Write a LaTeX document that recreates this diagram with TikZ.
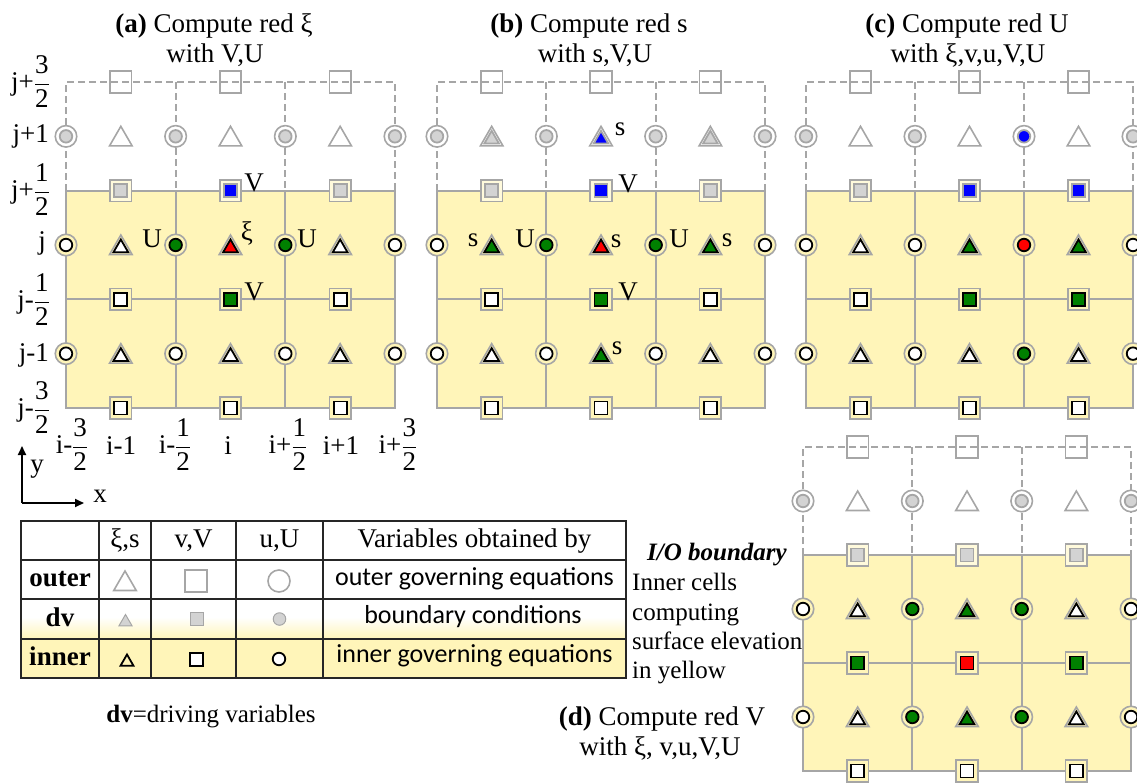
\documentclass[tikz,border=0pt]{standalone}
\usepackage{fontspec}
\setmainfont{Liberation Serif}
\newfontfamily\calibfont{Carlito}
\usetikzlibrary{shapes.geometric,arrows.meta}

\definecolor{yel}{HTML}{FFF5B9}
\definecolor{paleyel}{HTML}{FFFADC}
\definecolor{ring}{HTML}{A6A6A6}
\definecolor{dvfill}{HTML}{D3D3D3}
\definecolor{grn}{HTML}{008000}

\tikzset{
  base/.style={inner sep=0pt, outer sep=0pt},
  sqh/.style={base, rectangle, minimum size=21.5pt, draw=ring, line width=1.6pt},
  sqi/.style={base, rectangle, minimum size=13pt, line width=1.8pt},
  cih/.style={base, circle, minimum size=21.5pt, draw=ring, line width=1.6pt},
  cii/.style={base, circle, minimum size=12.5pt, line width=1.8pt},
  trh/.style={base, regular polygon, regular polygon sides=3, minimum size=26pt, draw=ring, line width=1.6pt},
  tri/.style={base, regular polygon, regular polygon sides=3, minimum size=17pt, line width=1.8pt},
  gline/.style={draw=ring, line width=1.9pt},
  dline/.style={draw=ring, line width=1.9pt, dash pattern=on 7pt off 4pt},
  tline/.style={draw=black!85, line width=1.6pt},
  t27/.style={font=\fontsize{27}{30}\selectfont, inner sep=0pt},
  t25/.style={font=\fontsize{25}{29}\selectfont, inner sep=0pt},
  tcal/.style={font=\calibfont\fontsize{26}{30}\selectfont, inner sep=0pt},
  axis/.style={line width=1.8pt, -{Triangle[length=9pt,width=8pt]}},
}

% stacked fraction in the text font
\newcommand\fr[2]{$\displaystyle\frac{\hbox{#1}}{\hbox{#2}}$}

% background of the ring around a marker, by row
\newcommand\setbg[1]{\ifnum#1<2 \def\hf{white}\else\ifnum#1=2 \def\hf{paleyel}\else\def\hf{yel}\fi\fi}

% markers: column, row, inner fill, inner stroke
\newcommand\msq[4]{\setbg{#2}%
  \node[sqh, fill=\hf] (\pn s#1#2) at (#1,#2) {};
  \node[sqi, fill=#3, draw=#4] (\pn s#1#2i) at (#1,#2) {};}
\newcommand\mci[4]{\setbg{#2}%
  \node[cih, fill=\hf] (\pn c#1#2) at (#1,#2) {};
  \node[cii, fill=#3, draw=#4] (\pn c#1#2i) at (#1,#2) {};}
\newcommand\mtr[4]{\setbg{#2}%
  \node[trh, fill=\hf, yshift=-3pt] (\pn t#1#2) at (#1,#2) {};
  \node[tri, fill=#3, draw=#4, yshift=-3pt] (\pn t#1#2i) at (#1,#2) {};}
% hollow outer markers
\newcommand\osq[1]{\node[sqh] (\pn o#1) at (#1,0) {};}
\newcommand\otr[1]{\node[trh, yshift=-3pt] (\pn u#1) at (#1,1) {};}

% staggered grid of one panel, in half-cell units
\newcommand\grid{%
  \fill[yel] (0,2) rectangle (6,6);
  \draw[dline] (0,2) -- (0,0) -- (6,0) -- (6,2);
  \draw[dline] (2,0) -- (2,2) (4,0) -- (4,2);
  \draw[gline] (0,2) rectangle (6,6);
  \draw[gline] (0,4) -- (6,4) (2,2) -- (2,6) (4,2) -- (4,6);
  \foreach \X in {1,3,5} {\osq{\X}}
  \foreach \X in {1,3,5} {\msq{\X}{6}{white}{black}}
}

\begin{document}
\begin{tikzpicture}[x=1pt, y=-1pt]
\useasboundingbox (0,0) rectangle (1137,782);

% ---------------- panel (a)
\def\pn{a}
\begin{scope}[shift={(66,82)}, x=54.83pt, y=-54.33pt]
  \grid
  \foreach \X in {1,3,5} {\otr{\X}}
  \foreach \X/\Y/\F/\D in {0/1/dvfill/ring, 2/1/dvfill/ring, 4/1/dvfill/ring, 6/1/dvfill/ring,
      0/3/white/black, 2/3/grn/black, 4/3/grn/black, 6/3/white/black,
      0/5/white/black, 2/5/white/black, 4/5/white/black, 6/5/white/black} {\mci{\X}{\Y}{\F}{\D}}
  \foreach \X/\Y/\F/\D in {1/2/dvfill/ring, 3/2/blue/ring, 5/2/dvfill/ring,
      1/4/white/black, 3/4/grn/black, 5/4/white/black} {\msq{\X}{\Y}{\F}{\D}}
  \foreach \X/\Y/\F/\D in {1/3/white/black, 3/3/red/black, 5/3/white/black,
      1/5/white/black, 3/5/white/black, 5/5/white/black} {\mtr{\X}{\Y}{\F}{\D}}
\end{scope}
\node[t27] (la1) at (254,183) {V};
\node[t27] (la2) at (152,239) {U};
\node[t27] (la3) at (247,233) {ξ};
\node[t27] (la4) at (307,239) {U};
\node[t27] (la5) at (254,292) {V};

% ---------------- panel (b)
\def\pn{b}
\begin{scope}[shift={(437,82)}, x=54.67pt, y=-54.33pt]
  \grid
  \foreach \X/\Y/\F/\D in {0/1/dvfill/ring, 2/1/dvfill/ring, 4/1/dvfill/ring, 6/1/dvfill/ring,
      0/3/white/black, 2/3/grn/black, 4/3/grn/black, 6/3/white/black,
      0/5/white/black, 2/5/white/black, 4/5/white/black, 6/5/white/black} {\mci{\X}{\Y}{\F}{\D}}
  \foreach \X/\Y/\F/\D in {1/2/dvfill/ring, 3/2/blue/ring, 5/2/dvfill/ring,
      1/4/white/black, 3/4/grn/black, 5/4/white/black} {\msq{\X}{\Y}{\F}{\D}}
  \foreach \X/\Y/\F/\D in {1/1/dvfill/ring, 3/1/blue/ring, 5/1/dvfill/ring,
      1/3/grn/black, 3/3/red/black, 5/3/grn/black,
      1/5/white/black, 3/5/grn/black, 5/5/white/black} {\mtr{\X}{\Y}{\F}{\D}}
\end{scope}
\node[t27] (lb1) at (620,129) {s};
\node[t27] (lb2) at (628,184) {V};
\node[t27] (lb3) at (473,240) {s};
\node[t27] (lb4) at (525,239) {U};
\node[t27] (lb5) at (616,241) {s};
\node[t27] (lb6) at (679,239) {U};
\node[t27] (lb7) at (727,240) {s};
\node[t27] (lb8) at (628,292) {V};
\node[t27] (lb9) at (617,348) {s};

% ---------------- panel (c)
\def\pn{c}
\begin{scope}[shift={(806,82)}, x=54.5pt, y=-54.33pt]
  \grid
  \foreach \X in {1,3,5} {\otr{\X}}
  \foreach \X/\Y/\F/\D in {0/1/dvfill/ring, 2/1/dvfill/ring, 4/1/blue/ring, 6/1/dvfill/ring,
      0/3/white/black, 2/3/white/black, 4/3/red/black, 6/3/white/black,
      0/5/white/black, 2/5/white/black, 4/5/grn/black, 6/5/white/black} {\mci{\X}{\Y}{\F}{\D}}
  \foreach \X/\Y/\F/\D in {1/2/dvfill/ring, 3/2/blue/ring, 5/2/blue/ring,
      1/4/white/black, 3/4/grn/black, 5/4/grn/black} {\msq{\X}{\Y}{\F}{\D}}
  \foreach \X/\Y/\F/\D in {1/3/white/black, 3/3/grn/black, 5/3/grn/black,
      1/5/white/black, 3/5/white/black, 5/5/white/black} {\mtr{\X}{\Y}{\F}{\D}}
\end{scope}

% ---------------- panel (d)
\def\pn{d}
\begin{scope}[shift={(803,447)}, x=54.67pt, y=-54pt]
  \grid
  \foreach \X in {1,3,5} {\otr{\X}}
  \foreach \X/\Y/\F/\D in {0/1/dvfill/ring, 2/1/dvfill/ring, 4/1/dvfill/ring, 6/1/dvfill/ring,
      0/3/white/black, 2/3/grn/black, 4/3/grn/black, 6/3/white/black,
      0/5/white/black, 2/5/grn/black, 4/5/grn/black, 6/5/white/black} {\mci{\X}{\Y}{\F}{\D}}
  \foreach \X/\Y/\F/\D in {1/2/dvfill/ring, 3/2/dvfill/ring, 5/2/dvfill/ring,
      1/4/grn/black, 3/4/red/black, 5/4/grn/black} {\msq{\X}{\Y}{\F}{\D}}
  \foreach \X/\Y/\F/\D in {1/3/white/black, 3/3/grn/black, 5/3/white/black,
      1/5/white/black, 3/5/grn/black, 5/5/white/black} {\mtr{\X}{\Y}{\F}{\D}}
\end{scope}

% ---------------- titles
\node[t27, anchor=base] (ta1) at (214,32) {\textbf{(a)} Compute red ξ};
\node[t27, anchor=base] (ta2) at (215,62) {with V,U};
\node[t27, anchor=base] (tb1) at (589,32) {\textbf{(b)} Compute red s};
\node[t27, anchor=base] (tb2) at (595,62) {with s,V,U};
\node[t27, anchor=base] (tc1) at (967,32) {\textbf{(c)} Compute red U};
\node[t27, anchor=base] (tc2) at (968,62) {with ξ,v,u,V,U};
\node[t27, anchor=base] (td1) at (662,725) {\textbf{(d)} Compute red V};
\node[t27, anchor=base] (td2) at (660,755) {with ξ, v,u,V,U};

% ---------------- index labels of panel (a)
\node[t27, anchor=east] (yl0) at (50,82) {j+\fr{3}{2}};
\node[t27, anchor=east] (yl1) at (49,136) {j+1};
\node[t27, anchor=east] (yl2) at (50,190) {j+\fr{1}{2}};
\node[t27, anchor=east] (yl3) at (46,243) {j};
\node[t27, anchor=east] (yl4) at (50,300) {j-\fr{1}{2}};
\node[t27, anchor=east] (yl5) at (49,355) {j-1};
\node[t27, anchor=east] (yl6) at (50,408) {j-\fr{3}{2}};
\node[t27] (xl0) at (72,445) {i-\fr{3}{2}};
\node[t27] (xl1) at (121,446) {i-1};
\node[t27] (xl2) at (175,445) {i-\fr{1}{2}};
\node[t27] (xl3) at (228,446) {i};
\node[t27] (xl4) at (288,445) {i+\fr{1}{2}};
\node[t27] (xl5) at (341,446) {i+1};
\node[t27] (xl6) at (398,445) {i+\fr{3}{2}};

% ---------------- axes
\coordinate (org) at (22,503);
\coordinate (ytip) at (22,446);
\coordinate (xtip) at (84,503);
\draw[axis] (org) -- (ytip);
\draw[axis] (org) -- (xtip);
\node[t27] (ylab) at (37,469) {y};
\node[t27] (xlab) at (100,496) {x};

% ---------------- legend table
\fill[yel] (21,639) rectangle (626,678);
\shade[top color=white, bottom color=yel] (21,617) rectangle (626,639);
\draw[tline] (21,521) rectangle (626,678);
\draw[tline] (21,560) -- (626,560) (21,599) -- (626,599) (21,639) -- (626,639);
\draw[tline] (99,521) -- (99,678) (151,521) -- (151,678) (236,521) -- (236,678) (323,521) -- (323,678);

\node[t27, anchor=base] (h1) at (125,547) {ξ,s};
\node[t27, anchor=base] (h2) at (193.5,547) {v,V};
\node[t27, anchor=base] (h3) at (279.5,547) {u,U};
\node[t27, anchor=base] (h4) at (474.5,547) {Variables obtained by};
\node[t27, anchor=base] (r1) at (60,586) {\textbf{outer}};
\node[t27, anchor=base] (r2) at (60,626) {\textbf{dv}};
\node[t27, anchor=base] (r3) at (60,665) {\textbf{inner}};
\node[tcal, anchor=base] (e1) at (474.5,585) {outer governing equations};
\node[tcal, anchor=base] (e2) at (473,623) {boundary conditions};
\node[tcal, anchor=base] (e3) at (474.5,662) {inner governing equations};

\node[trh, yshift=-3pt] (ko1) at (125,581) {};
\node[sqh, minimum size=22pt] (ko2) at (196,581) {};
\node[cih, minimum size=22pt] (ko3) at (279,581) {};
\node[tri, minimum size=15pt, fill=dvfill, draw=ring, line width=1pt, yshift=-2pt] (kd1) at (125.5,620) {};
\node[sqi, fill=dvfill, draw=ring, line width=1pt] (kd2) at (196.5,619) {};
\node[cii, fill=dvfill, draw=ring, line width=1pt] (kd3) at (279.5,619) {};
\node[tri, minimum size=15pt, draw=black, yshift=-2pt] (ki1) at (127,660) {};
\node[sqi, fill=white, draw=black] (ki2) at (196.5,659.5) {};
\node[cii, fill=white, draw=black] (ki3) at (279,659) {};

\node[t25, anchor=base] (note) at (211,722) {\textbf{dv}=driving variables};

% ---------------- side note of panel (d)
\node[t25, anchor=base west] (io) at (647,560) {\textbf{\itshape I/O boundary}};
\node[t25, anchor=base west] (n1) at (632,590) {Inner cells};
\node[t25, anchor=base west] (n2) at (632,620) {computing};
\node[t25, anchor=base west] (n3) at (632,649) {surface elevation};
\node[t25, anchor=base west] (n4) at (632,678) {in yellow};
\end{tikzpicture}
\end{document}
